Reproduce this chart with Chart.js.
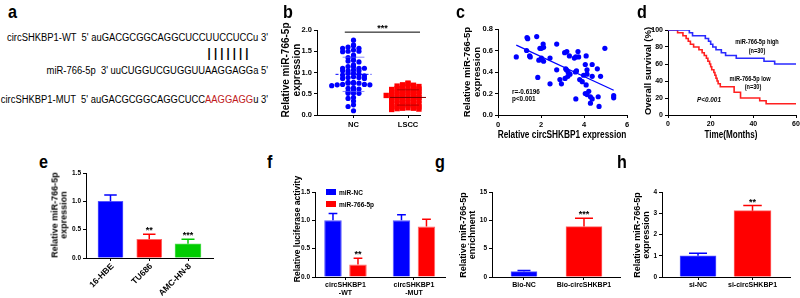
<!DOCTYPE html>
<html>
<head>
<meta charset="utf-8">
<script src="https://cdn.jsdelivr.net/npm/chart.js@4.4.1/dist/chart.umd.min.js"></script>
<style>
html, body { margin: 0; padding: 0; background: #fff; }
body { width: 800px; height: 298px; position: relative; overflow: hidden; font-family: 'Liberation Sans', Arial, sans-serif; color: #000; }
canvas { position: absolute; }
.lbl { position: absolute; white-space: pre; }
.vt { position: absolute; white-space: nowrap; text-align: center; font-weight: bold; transform: translate(-50%, -50%) rotate(-90deg); }
</style>
</head>
<body>
<script>
// ---- data ----
// b: scatter dot plot
var bCats = ['NC', 'LSCC'];
var ncVals = [1.76, 1.65, 1.63, 1.6, 1.57, 1.57, 1.53, 1.5, 1.5, 1.49, 1.41, 1.37, 1.35, 1.29, 1.27, 1.25, 1.18, 1.14, 1.14, 1.1,
              1.1, 1.1, 1.06, 1.04, 1.04, 1.04, 0.98, 0.98, 0.96, 0.94, 0.92, 0.9, 0.88, 0.88, 0.86, 0.86, 0.77, 0.77, 0.75, 0.75,
              0.75, 0.72, 0.72, 0.71, 0.71, 0.69, 0.64, 0.63, 0.61, 0.59, 0.55, 0.51, 0.51, 0.51, 0.41, 0.39, 0.33, 0.24, 0.2, 0.1];
var lsccVals = [0.75, 0.73, 0.71, 0.70, 0.68, 0.67, 0.66, 0.64, 0.63, 0.62, 0.61, 0.60, 0.58, 0.57, 0.56, 0.55, 0.55, 0.53, 0.52, 0.51,
                0.50, 0.49, 0.48, 0.47, 0.46, 0.46, 0.45, 0.44, 0.43, 0.42, 0.41, 0.40, 0.40, 0.38, 0.37, 0.36, 0.35, 0.35, 0.33, 0.32,
                0.31, 0.30, 0.29, 0.28, 0.26, 0.25, 0.24, 0.22, 0.21, 0.20, 0.19, 0.18, 0.18, 0.17, 0.16, 0.16, 0.15, 0.14, 0.13, 0.12];

// c: correlation
var cX = [0.85, 1.35, 1.38, 1.33, 1.47, 1.5, 1.8, 1.85, 1.95, 2.02, 2.1, 2.12, 1.9, 2.02, 2.12, 2.42, 2.42, 2.73, 2.73, 2.88,
          2.95, 3.1, 3.2, 3.15, 3.18, 3.26, 3.12, 3.25, 3.32, 3.35, 3.55, 3.62, 3.72, 3.75, 3.6, 3.65, 3.62, 3.8, 3.92, 3.98,
          4.06, 4.1, 4.14, 4.14, 4.1, 4.06, 4.14, 4.22, 4.3, 4.3, 4.38, 4.38, 4.38, 4.62, 4.66, 4.7, 4.77, 4.97, 5.38, 5.38];
var cY = [0.54, 0.72, 0.71, 0.60, 0.55, 0.54, 0.73, 0.35, 0.62, 0.62, 0.66, 0.63, 0.51, 0.53, 0.50, 0.53, 0.29, 0.66, 0.42, 0.33,
          0.29, 0.58, 0.59, 0.43, 0.42, 0.40, 0.34, 0.36, 0.55, 0.38, 0.53, 0.54, 0.59, 0.54, 0.40, 0.41, 0.15, 0.33, 0.31, 0.37,
          0.47, 0.55, 0.42, 0.38, 0.28, 0.20, 0.19, 0.22, 0.17, 0.11, 0.47, 0.36, 0.15, 0.43, 0.17, 0.08, 0.36, 0.62, 0.18, 0.16];
var fitX = [0.85, 5.38];
var fitY = [0.65, 0.23];
var cStats = ['r=-0.6196', 'p<0.001'];

// d: survival
var dHighT = [0, 10, 11.5, 17.5, 19, 20, 21, 22.5, 25, 27, 32, 45, 50, 60];
var dHighS = [100, 96.7, 93.3, 90, 86.7, 83.3, 80, 76.7, 73.3, 70, 66.7, 63.3, 60, 60];
var dLowT = [0, 4.5, 7, 8.5, 9.5, 10.5, 12, 14.5, 16, 17, 18, 18.7, 19.5, 20, 20.5, 21.5, 22, 22.5, 23, 23.5, 24.5, 31, 34, 43, 46, 60];
var dLowS = [100, 96.7, 93.3, 90, 86.7, 83.3, 80, 76.7, 73.3, 70, 66.7, 63.3, 60, 56.7, 53.3, 50, 46.7, 43.3, 40, 36.7, 33.3, 26.7, 20, 16.7, 13.3, 13.3];

// e
var eCats = ['16-HBE', 'TU686', 'AMC-HN-8'];
var eMeans = [1.0, 0.33, 0.25];
var eErrs = [0.11, 0.09, 0.08];
var eStars = ['', '**', '***'];

// f
var fCats = [['circSHKBP1', '-WT'], ['circSHKBP1', '-MUT']];
var fSeries = ['miR-NC', 'miR-766-5p'];
var fNC = [1.0, 1.0];
var fNCErr = [0.12, 0.10];
var fMiR = [0.22, 0.89];
var fMiRErr = [0.11, 0.13];
var fStars = ['**', ''];

// g
var gCats = ['Bio-NC', 'Bio-circSHKBP1'];
var gMeans = [0.95, 8.9];
var gErrs = [0.2, 1.45];
var gStars = ['', '***'];

// h
var hCats = ['si-NC', 'si-circSHKBP1'];
var hMeans = [1.0, 3.12];
var hErrs = [0.12, 0.24];
var hStars = ['', '**'];

// ---- styles ----
var FONT = "'Liberation Sans', Arial, sans-serif";
var BLUE = '#0000ff', RED = '#ff0000', GREEN = '#00cc00';
var BLUE_E = '#5555ff', RED_E = '#ff6666', GREEN_E = '#55dd55';

Chart.defaults.font.family = FONT;
Chart.defaults.color = '#000';

function addText(x, base, str, o) {
    o = o || {};
    var size = o.size || 8;
    var d = document.createElement('div');
    d.className = 'lbl';
    d.innerHTML = str;
    d.style.left = x + 'px';
    d.style.top = (base - 0.85 * size) + 'px';
    d.style.fontSize = size + 'px';
    d.style.lineHeight = size + 'px';
    d.style.fontWeight = o.bold === false ? 'normal' : 'bold';
    if (o.italic) d.style.fontStyle = 'italic';
    if (o.color) d.style.color = o.color;
    var tx = o.align === 'center' ? '-50%' : (o.align === 'right' ? '-100%' : '0');
    d.style.transformOrigin = o.align === 'center' ? 'center' : (o.align === 'right' ? 'right' : 'left');
    d.style.transform = 'translateX(' + tx + ') scaleX(' + (o.sx || 1) + ')';
    document.body.appendChild(d);
}

function addVTitle(cx, cy, lines, size) {
    var d = document.createElement('div');
    d.className = 'vt';
    d.innerHTML = lines.join('<br>');
    d.style.left = cx + 'px';
    d.style.top = cy + 'px';
    d.style.fontSize = size + 'px';
    d.style.lineHeight = (size * 1.05) + 'px';
    document.body.appendChild(d);
}

function gridOpts() {
    return { display: true, drawOnChartArea: false, drawTicks: true, tickLength: 3, color: '#000', lineWidth: 1, offset: false };
}

function yScale(max, step, dec, size) {
    return {
        type: 'linear', min: 0, max: max,
        grid: gridOpts(), border: { display: true, color: '#000', width: 1 },
        ticks: { stepSize: step, color: '#000', padding: 2, font: { size: size || 7, weight: 'bold' },
            callback: function (v) { return v.toFixed(dec); } }
    };
}

function xNum(max, step, size) {
    return {
        type: 'linear', min: 0, max: max, offset: false,
        grid: gridOpts(), border: { display: true, color: '#000', width: 1 },
        ticks: { stepSize: step, color: '#000', padding: 2, font: { size: size || 7, weight: 'bold' } }
    };
}

// categories on a linear axis so the bars can sit exactly where they are in the figure
function xCats(cats, min, max, size, showLabels) {
    return {
        type: 'linear', min: min, max: max, offset: false,
        grid: gridOpts(), border: { display: true, color: '#000', width: 1 },
        afterBuildTicks: function (s) {
            s.ticks = cats.map(function (c, i) { return { value: i + 1 }; });
        },
        ticks: { display: !!showLabels, color: '#000', padding: 2, autoSkip: false, maxRotation: 0, minRotation: 0,
            font: { size: size, weight: 'bold' },
            callback: function (v, i) { return cats[i]; } }
    };
}

// category labels drawn under the axis (keeps Chart.js from shrinking the plot for wide labels)
function catLabels(cats, size, rot) {
    return {
        id: 'catLabels',
        afterDraw: function (chart) {
            var ctx = chart.ctx, xs = chart.scales.x, bottom = chart.chartArea.bottom;
            ctx.save();
            ctx.fillStyle = '#000';
            ctx.font = 'bold ' + size + 'px ' + FONT;
            cats.forEach(function (c, i) {
                var x = xs.getPixelForValue(i + 1);
                if (rot) {
                    ctx.save();
                    ctx.translate(x + 2, bottom + 7);
                    ctx.rotate(-rot * Math.PI / 180);
                    ctx.textAlign = 'right';
                    ctx.textBaseline = 'middle';
                    ctx.fillText(c, 0, 0);
                    ctx.restore();
                } else {
                    ctx.textAlign = 'center';
                    [].concat(c).forEach(function (line, k) { ctx.fillText(line, x, bottom + 10 + k * 8); });
                }
            });
            ctx.restore();
        }
    };
}

function makeChart(box, type, datasets, scales, plugins) {
    var yW = 30, pt = 10, pr = 14, xH = box.xH || 30;
    var w = box.R - box.L + yW + pr, h = box.B - box.T + pt + xH;
    var cv = document.createElement('canvas');
    cv.width = w;
    cv.height = h;
    cv.style.left = (box.L - yW) + 'px';
    cv.style.top = (box.T - pt) + 'px';
    document.body.appendChild(cv);
    scales.x.afterFit = function (s) { s.height = xH; };
    scales.y.afterFit = function (s) { s.width = yW; };
    return new Chart(cv, {
        type: type,
        data: { datasets: datasets },
        options: {
            responsive: false, animation: false, devicePixelRatio: 1, events: [],
            layout: { padding: { top: pt, right: pr, left: 0, bottom: 0 } },
            plugins: { legend: { display: false }, tooltip: { enabled: false } },
            scales: scales
        },
        plugins: plugins || []
    });
}

// error bars + stars on top of bars
var errorBars = {
    id: 'errorBars',
    afterDatasetsDraw: function (chart) {
        var ctx = chart.ctx, ys = chart.scales.y;
        chart.data.datasets.forEach(function (ds, i) {
            var meta = chart.getDatasetMeta(i);
            meta.data.forEach(function (bar, j) {
                var top = ys.getPixelForValue(ds.data[j].y + ds.errors[j]);
                var cap = bar.width * 0.25;
                ctx.save();
                ctx.strokeStyle = ds.errColor;
                ctx.lineWidth = 1.5;
                ctx.beginPath();
                ctx.moveTo(bar.x, bar.y);
                ctx.lineTo(bar.x, top);
                ctx.moveTo(bar.x - cap, top);
                ctx.lineTo(bar.x + cap, top);
                ctx.stroke();
                if (ds.stars && ds.stars[j]) {
                    ctx.fillStyle = '#000';
                    ctx.font = 'bold 9px ' + FONT;
                    ctx.textAlign = 'center';
                    ctx.fillText(ds.stars[j], bar.x, top - 1);
                }
                ctx.restore();
            });
        });
    }
};

// one dataset per bar so every bar can have its own colour and width
function barSets(means, errs, stars, colors, edges, widths) {
    return means.map(function (m, i) {
        return {
            data: [{ x: i + 1, y: m }], errors: [errs[i]], stars: [stars[i]], errColor: colors[i],
            backgroundColor: colors[i], borderColor: edges[i], borderWidth: 1,
            grouped: false, barPercentage: 1, categoryPercentage: 1, maxBarThickness: widths[i]
        };
    });
}

// simple beeswarm: points in the same value bin are spread sideways
function swarm(vals, center, bin, step) {
    var bins = {};
    return vals.map(function (v) {
        var b = Math.round(v / bin);
        var k = bins[b] = (bins[b] || 0) + 1;
        var off = (k % 2 ? 1 : -1) * Math.floor(k / 2) * step;
        return { x: center + off, y: v };
    });
}

function meanSd(a) {
    var m = a.reduce(function (s, v) { return s + v; }, 0) / a.length;
    var sd = Math.sqrt(a.reduce(function (s, v) { return s + (v - m) * (v - m); }, 0) / (a.length - 1));
    return [m, sd];
}

// ---- panel b ----
var bLines = {
    id: 'bLines',
    afterDatasetsDraw: function (chart) {
        var ctx = chart.ctx, xs = chart.scales.x, ys = chart.scales.y;
        [[ncVals, 1, '#0000ff', 'rgba(90,90,255,0.7)', [3, 2]], [lsccVals, 2, '#7a0000', 'rgba(150,0,0,0.7)', []]].forEach(function (g) {
            var ms = meanSd(g[0]);
            ctx.save();
            ctx.lineWidth = 1;
            ctx.strokeStyle = g[2];
            ctx.setLineDash(g[4]);
            ctx.beginPath();
            ctx.moveTo(xs.getPixelForValue(g[1] - 0.33), ys.getPixelForValue(ms[0]));
            ctx.lineTo(xs.getPixelForValue(g[1] + 0.33), ys.getPixelForValue(ms[0]));
            ctx.stroke();
            ctx.setLineDash([]);
            ctx.strokeStyle = g[3];
            ctx.beginPath();
            [ms[0] - ms[1], ms[0] + ms[1]].forEach(function (v) {
                ctx.moveTo(xs.getPixelForValue(g[1] - 0.2), ys.getPixelForValue(v));
                ctx.lineTo(xs.getPixelForValue(g[1] + 0.2), ys.getPixelForValue(v));
            });
            ctx.stroke();
            ctx.restore();
        });
        var x0 = xs.getPixelForValue(0.84), x1 = chart.chartArea.right, y = ys.getPixelForValue(1.95);
        ctx.save();
        ctx.strokeStyle = '#000';
        ctx.lineWidth = 1;
        ctx.beginPath();
        ctx.moveTo(x0, y);
        ctx.lineTo(x1, y);
        ctx.stroke();
        ctx.fillStyle = '#000';
        ctx.font = 'bold 9px ' + FONT;
        ctx.textAlign = 'center';
        ctx.fillText('***', (x0 + x1) / 2, y - 1);
        ctx.restore();
    }
};

makeChart({ L: 317, T: 30, R: 420, B: 115 }, 'scatter', [
    { data: swarm(ncVals, 1, 0.08, 0.1), backgroundColor: BLUE, borderWidth: 0, pointRadius: 2.6, clip: false },
    { data: swarm(lsccVals, 2, 0.07, 0.1), backgroundColor: RED, borderWidth: 0, pointStyle: 'rect', pointRadius: 3.8, clip: false }
], { x: xCats(bCats, 0.33, 2.22, 7.5, true), y: yScale(2, 0.5, 1, 7.5) }, [bLines]);

// ---- panel c ----
makeChart({ L: 498, T: 29, R: 627, B: 115 }, 'scatter', [
    { data: cX.map(function (x, i) { return { x: x, y: cY[i] }; }), backgroundColor: BLUE, borderWidth: 0, pointRadius: 2.6 },
    { type: 'line', data: fitX.map(function (x, i) { return { x: x, y: fitY[i] }; }), borderColor: BLUE, borderWidth: 1.2, pointRadius: 0, showLine: true }
], { x: xNum(6, 2, 7.5), y: yScale(0.8, 0.2, 1, 7.5) });

// ---- panel d ----
makeChart({ L: 668, T: 30, R: 796, B: 115 }, 'line', [
    { data: dHighT.map(function (t, i) { return { x: t, y: dHighS[i] }; }), borderColor: '#2a2aff', borderWidth: 1.6, pointRadius: 0, stepped: true },
    { data: dLowT.map(function (t, i) { return { x: t, y: dLowS[i] }; }), borderColor: '#ff2020', borderWidth: 1.6, pointRadius: 0, stepped: true }
], { x: xNum(60, 20, 7), y: yScale(100, 20, 0, 7) });

// ---- panel e ----
makeChart({ L: 86, T: 173, R: 213, B: 258, xH: 40 }, 'bar',
    barSets(eMeans, eErrs, eStars, [BLUE, RED, GREEN], [BLUE_E, RED_E, GREEN_E], [25, 25, 26]),
    { x: xCats(eCats, 0.368, 3.645), y: yScale(1.5, 0.5, 1, 6.5) }, [errorBars, catLabels(eCats, 8.5, 45)]);

// ---- panel f ----
var fLegend = {
    id: 'fLegend',
    afterDraw: function (chart) {
        var ctx = chart.ctx, ca = chart.chartArea;
        chart.data.datasets.forEach(function (ds, i) {
            ctx.save();
            ctx.fillStyle = ds.backgroundColor;
            ctx.fillRect(ca.left + 11, ca.top - 3 + i * 12, 10, 6);
            ctx.fillStyle = '#000';
            ctx.font = 'bold 6.5px ' + FONT;
            ctx.fillText(ds.label, ca.left + 24, ca.top + 3 + i * 12);
            ctx.restore();
        });
    }
};
makeChart({ L: 315, T: 192, R: 445, B: 277 }, 'bar', [
    { label: fSeries[0], data: fNC.map(function (v, i) { return { x: i + 1, y: v }; }), errors: fNCErr, stars: ['', ''], errColor: BLUE,
      backgroundColor: BLUE, borderColor: BLUE_E, borderWidth: 1, categoryPercentage: 0.73, barPercentage: 0.7 },
    { label: fSeries[1], data: fMiR.map(function (v, i) { return { x: i + 1, y: v }; }), errors: fMiRErr, stars: fStars, errColor: RED,
      backgroundColor: RED, borderColor: RED_E, borderWidth: 1, categoryPercentage: 0.73, barPercentage: 0.7 }
], { x: xCats(fCats, 0.555, 2.453), y: yScale(1.5, 0.5, 1, 6.5) }, [errorBars, fLegend, catLabels(fCats, 7)]);

// ---- panel g ----
makeChart({ L: 492, T: 192, R: 620, B: 277 }, 'bar',
    barSets(gMeans, gErrs, gStars, [BLUE, RED], [BLUE_E, RED_E], [26, 36]),
    { x: xCats(gCats, 0.467, 2.6), y: yScale(15, 5, 0, 6.5) }, [errorBars, catLabels(gCats, 7)]);

// ---- panel h ----
makeChart({ L: 662, T: 192, R: 790, B: 277 }, 'bar',
    barSets(hMeans, hErrs, hStars, [BLUE, RED], [BLUE_E, RED_E], [36, 37]),
    { x: xCats(hCats, 0.339, 2.688), y: yScale(4, 1, 0, 6.5) }, [errorBars, catLabels(hCats, 7)]);

// ---- text ----
var letters = [['a', 8, 18], ['b', 283, 18], ['c', 456, 18], ['d', 637, 18], ['e', 39, 168], ['f', 267, 168], ['g', 435, 168], ['h', 617, 168]];
letters.forEach(function (l) { addText(l[1], l[2], l[0], { size: 19, sx: 0.85 }); });

// panel a sequences
addText(268, 41, "circSHKBP1-WT  5' auGACGCGGCAGGCUCCUUCCUCCu 3'", { size: 10, bold: false, align: 'right', sx: 0.94 });
addText(228, 58, '| | | | | | |', { size: 12.5, align: 'center', sx: 0.9 });
addText(268, 74, "miR-766-5p  3' uuCUGGUCGUGGUUAAGGAGGa 5'", { size: 10, bold: false, align: 'right', sx: 0.94 });
addText(268, 103, "circSHKBP1-MUT  5' auGACGCGGCAGGCUCC<span style=\"color:#c0181a\">AAGGAGG</span>u 3'", { size: 10, bold: false, align: 'right', sx: 0.94 });

// axis titles
addVTitle(290.5, 70, ['Relative miR-766-5p', 'expression'], 10);
addVTitle(472, 72, ['Relative miR-766-5p', 'expression'], 9.5);
addText(562, 138.5, 'Relative circSHKBP1 expression', { size: 10, align: 'center', sx: 0.83 });
addVTitle(648, 71, ['Overall survival (%)'], 9.5);
addText(731, 138.5, 'Time(Months)', { size: 10, align: 'center', sx: 0.81 });
addVTitle(59.5, 215, ['Relative miR-766-5p', 'expression'], 9);
addVTitle(297, 229, ['Relative luciferase activity'], 8.5);
addVTitle(467.5, 234.5, ['Relative miR-766-5p', 'enrichment'], 9);
addVTitle(641.5, 234.5, ['Relative miR-766-5p', 'expression'], 9);

// annotations
addText(512, 94, cStats[0], { size: 7.5, sx: 0.85 });
addText(512, 101.5, cStats[1], { size: 7.5, sx: 0.85 });
addText(757, 44, 'miR-766-5p high', { size: 7, align: 'center', sx: 0.8 });
addText(757, 53, '(n=30)', { size: 7, align: 'center', sx: 0.8 });
addText(750, 81, 'miR-766-5p low', { size: 7, align: 'center', sx: 0.8 });
addText(753, 89, '(n=30)', { size: 7, align: 'center', sx: 0.8 });
addText(709, 102, 'P&lt;0.001', { size: 7.5, align: 'center', italic: true, sx: 0.85 });
</script>
</body>
</html>
